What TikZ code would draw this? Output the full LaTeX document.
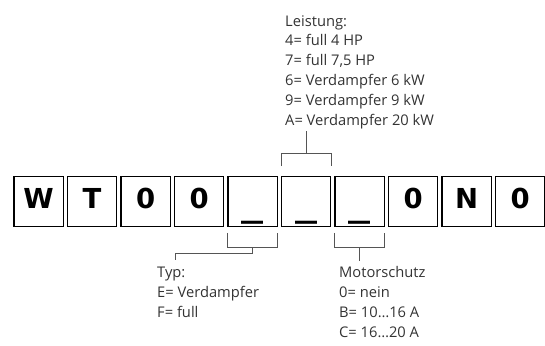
\documentclass[tikz,border=0pt]{standalone}
\usepackage{fontspec}
\usepackage{graphicx}
\setmainfont{Open Sans}
\newfontfamily\boxfont{DejaVu Sans}
\usepackage{tikz}
\definecolor{textgray}{RGB}{51,51,51}
\definecolor{linegray}{RGB}{85,85,85}
\newcommand{\blank}{\raisebox{-8.5pt}{\scalebox{1.6}[1.2]{\_}}}

\begin{document}
\begin{tikzpicture}[x=1pt,y=-1pt,
    charbox/.style={draw=black,line width=1.1pt,inner sep=0pt,minimum width=49.2pt,
        text height=31.6pt,text depth=18.4pt,font=\boxfont\bfseries\fontsize{27.5}{27.5}\selectfont},
    bracket/.style={draw=linegray,line width=0.9pt},
    note/.style={inner sep=0pt,align=left,text=textgray,font=\fontsize{14.7}{19.8}\selectfont}]
        \useasboundingbox (0,0) rectangle (545,345);
        \foreach \ch [count=\i from 0] in {W,T,0,0,\blank,\blank,\blank,0,N,0}{
            \node[charbox] (c\i) at ({38.6+53.5*\i},201.7) {\ch};
        }
        \node[note,anchor=base west] (leistung) at (285,125) {Leistung:\\4= full 4 HP\\7= full 7,5 HP\\6= Verdampfer 6 kW\\9= Verdampfer 9 kW\\A= Verdampfer 20 kW};
        \node[note,anchor=base west,font=\fontsize{14.7}{20}\selectfont] (typ) at (157,317.3) {Typ:\\E= Verdampfer\\F= full};
        \node[note,anchor=base west,font=\fontsize{14.7}{20}\selectfont] (motor) at (339,337.3) {Motorschutz\\0= nein\\B= 10…16 A\\C= 16…20 A};
        \coordinate (ltip) at ([yshift=45pt]c5.north);
        \coordinate (ttip) at (175,260);
        \draw[bracket] ([yshift=10pt]c5.north west) |- ([yshift=22.7pt]c5.north east) -- ([yshift=10pt]c5.north east);
        \draw[bracket] ([yshift=22.7pt]c5.north) -- (ltip);
        \draw[bracket] ([yshift=-5.6pt]c4.south west) |- ([yshift=-20pt]c4.south east) -- ([yshift=-5.6pt]c4.south east);
        \draw[bracket] ([yshift=-20pt]c4.south) |- ([yshift=6.7pt]ttip) -- (ttip);
        \draw[bracket] ([yshift=-5.6pt]c6.south west) |- ([yshift=-20pt]c6.south east) -- ([yshift=-5.6pt]c6.south east);
        \draw[bracket] ([yshift=-20pt]c6.south) -- ([yshift=-33.3pt]c6.south);
    \end{tikzpicture}
\end{document}
